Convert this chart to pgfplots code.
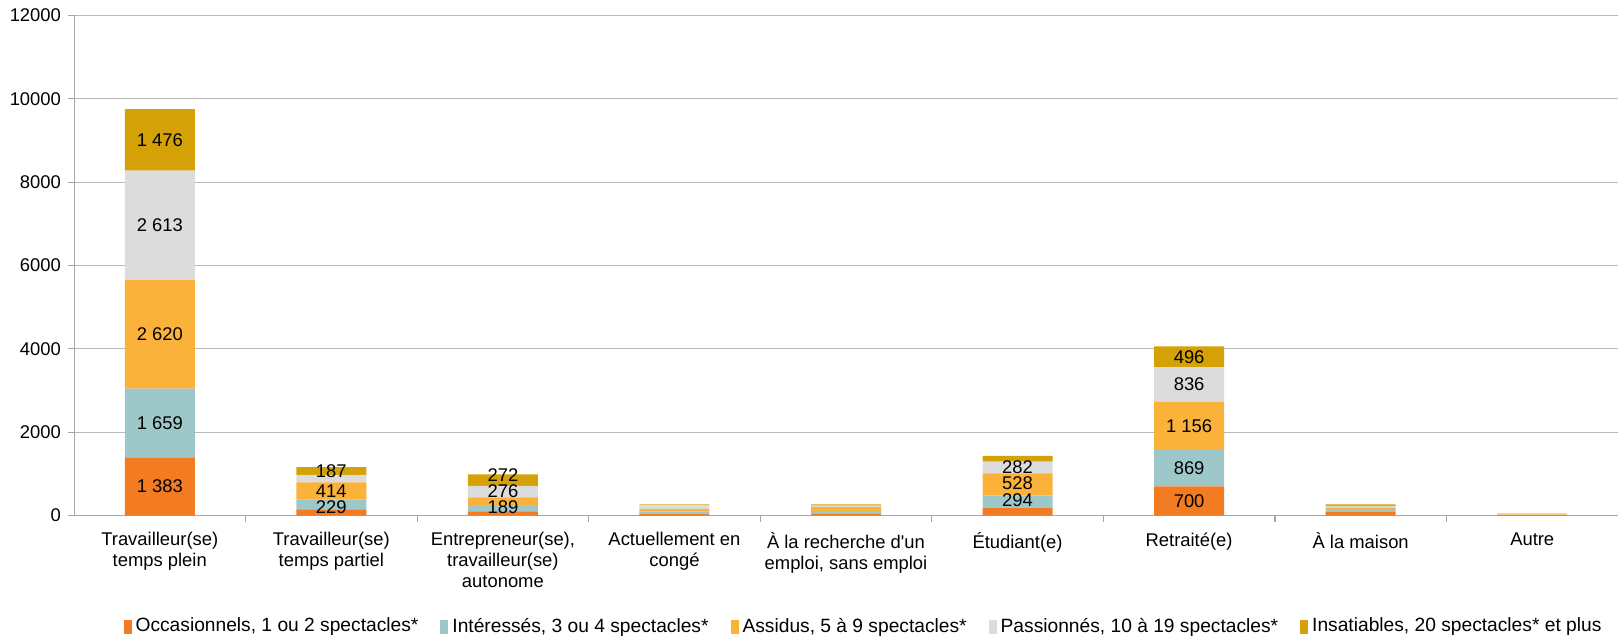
\documentclass[border=0pt]{standalone}
\usepackage{pgfplots}
\pgfplotsset{compat=1.18}
\usepackage{fontspec}
\setmainfont{Liberation Sans}

\definecolor{occ}{HTML}{F37B22}
\definecolor{inte}{HTML}{9EC7CA}
\definecolor{assi}{HTML}{FBB23A}
\definecolor{pass}{HTML}{DCDCDC}
\definecolor{insa}{HTML}{D4A106}
\definecolor{axgray}{HTML}{A6A6A6}

\pgfplotsset{
  common/.style={
    scale only axis,
    width=772pt, height=250pt,
    xmin=0.5, xmax=9.5, ymin=0, ymax=12000,
  },
}

\begin{document}
\begin{tikzpicture}
\begin{axis}[
  common,
  ybar stacked, bar width=35pt,
  axis x line=bottom, axis y line=left,
  axis line style={axgray, -},
  ytick={0,2000,...,12000},
  scaled y ticks=false,
  ymajorgrids, grid style={axgray!80, line width=0.6pt},
  tick align=outside,
  y tick style={axgray, line width=0.6pt},
  major tick length=3pt, minor tick length=3pt,
  xtick={1,...,9},
  minor xtick={1.5,2.5,...,8.5},
  major x tick style={draw=none},
  minor x tick style={draw=axgray, line width=0.6pt},
  xticklabels={{Travailleur(se)\\temps plein},{Travailleur(se)\\temps partiel},{Entrepreneur(se),\\travailleur(se)\\autonome},{Actuellement en\\congé},{À la recherche d\textquotesingle un\\emploi, sans emploi},{Étudiant(e)},{Retraité(e)},{À la maison},{Autre}},
  xticklabel style={align=center, font=\fontsize{9.2}{10.4}\selectfont, yshift=-2pt},
  yticklabel style={font=\fontsize{9.2}{10.4}\selectfont},
  /pgf/number format/1000 sep={},
  /pgf/number format/assume math mode=true,
  legend style={at={(0.512,-0.222)}, anchor=center, draw=none, legend columns=-1,
    font=\fontsize{9.6}{10.4}\selectfont, /tikz/every even column/.append style={column sep=9pt}},
  legend image code/.code={\fill[#1] (0pt,-3.5pt) rectangle (4pt,3.5pt);},
  legend cell align=left,
]
\addplot[fill=occ, draw=none] coordinates {
  (1,1383) (2,150) (3,100) (4,45) (5,40) (6,190) (7,700) (8,80) (9,10)};
\addplot[fill=inte, draw=none] coordinates {
  (1,1659) (2,229) (3,148) (4,50) (5,45) (6,294) (7,869) (8,55) (9,8)};
\addplot[fill=assi, draw=none] coordinates {
  (1,2620) (2,414) (3,189) (4,60) (5,115) (6,528) (7,1156) (8,50) (9,12)};
\addplot[fill=pass, draw=none] coordinates {
  (1,2613) (2,180) (3,276) (4,100) (5,40) (6,282) (7,836) (8,45) (9,8)};
\addplot[fill=insa, draw=none] coordinates {
  (1,1476) (2,187) (3,272) (4,15) (5,25) (6,140) (7,496) (8,40) (9,10)};
\legend{{Occasionnels, 1 ou 2 spectacles*}, {Intéressés, 3 ou 4 spectacles*}, {Assidus, 5 à 9 spectacles*}, {Passionnés, 10 à 19 spectacles*}, {Insatiables, 20 spectacles* et plus}}
\coordinate (bl) at (rel axis cs:0,0);
\coordinate (tr) at (rel axis cs:1,1);
\end{axis}
% value labels, at the middle of their segments
\begin{axis}[
  common, hide axis,
  point meta=explicit symbolic,
  nodes near coords,
  every node near coord/.style={anchor=center, inner sep=0pt, font=\fontsize{9.2}{10}\selectfont},
]
\addplot[only marks, mark=none] coordinates {
  (1,692) [1 383] (1,2212) [1 659] (1,4352) [2 620] (1,6968) [2 613] (1,9013) [1 476]
  (2,190) [229] (2,590) [414] (2,1065) [187]
  (3,200) [189] (3,585) [276] (3,975) [272]
  (6,370) [294] (6,780) [528] (6,1170) [282]
  (7,350) [700] (7,1134) [869] (7,2147) [1 156] (7,3143) [836] (7,3809) [496]};
\end{axis}
\pgfresetboundingbox
\path[use as bounding box] ([xshift=-37pt,yshift=-63pt]bl) rectangle ([xshift=0.5pt,yshift=7.75pt]tr);
\end{tikzpicture}
\end{document}
